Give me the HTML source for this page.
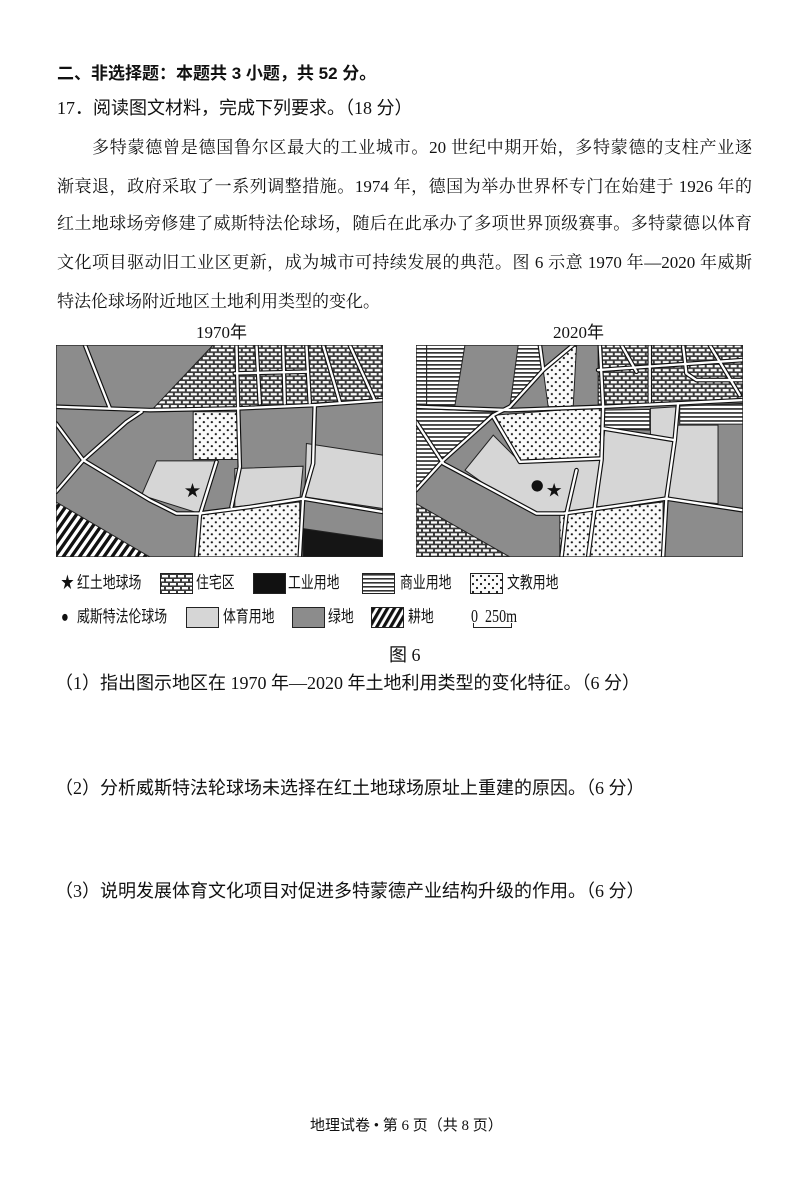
<!DOCTYPE html>
<html><head><meta charset="utf-8"><style>
body{margin:0;background:#fff;width:800px;height:1183px;position:relative;overflow:hidden;font-family:"Liberation Serif","Noto Serif CJK SC",serif;color:#111}
.a{position:absolute;white-space:nowrap}
.t{font-family:"Liberation Sans","Noto Sans CJK SC",sans-serif;font-weight:bold;font-size:17px}
.p{position:absolute;left:57px;width:695px;font-size:17px;text-align:justify;text-align-last:justify;white-space:nowrap;height:24px;line-height:24px;font-family:"Liberation Serif","Noto Serif CJK SC",serif}
.q{font-family:"Liberation Serif","Noto Sans CJK SC",sans-serif;font-size:18px}
.lg{font-family:"Liberation Serif","Noto Sans CJK SC",sans-serif;font-size:16.5px;line-height:20px;transform:scaleX(0.78);transform-origin:0 0}
.box{position:absolute;width:33px;height:21px;border:1px solid #222;box-sizing:border-box}
</style></head><body>
<div class="a t" style="left:57px;top:59px">二、非选择题：本题共 3 小题，共 52 分。</div>
<div class="a q" style="left:57px;top:94px">17．阅读图文材料，完成下列要求。（18 分）</div>
<div class="p" style="top:136px;left:92px;width:660px">多特蒙德曾是德国鲁尔区最大的工业城市。20 世纪中期开始，多特蒙德的支柱产业逐</div>
<div class="p" style="top:175px">渐衰退，政府采取了一系列调整措施。1974 年，德国为举办世界杯专门在始建于 1926 年的</div>
<div class="p" style="top:212px">红土地球场旁修建了威斯特法伦球场，随后在此承办了多项世界顶级赛事。多特蒙德以体育</div>
<div class="p" style="top:251px">文化项目驱动旧工业区更新，成为城市可持续发展的典范。图 6 示意 1970 年—2020 年威斯</div>
<div class="a" style="top:290px;left:57px;font-size:17px;line-height:24px;font-family:'Liberation Serif','Noto Serif CJK SC',serif">特法伦球场附近地区土地利用类型的变化。</div>
<div class="a q" style="left:196px;top:318px;font-size:17px">1970年</div>
<div class="a q" style="left:553px;top:318px;font-size:17px">2020年</div>

<svg width="0" height="0" style="position:absolute">
<defs>
<pattern id="brick" width="8" height="8" patternUnits="userSpaceOnUse"><rect width="8" height="8" fill="#3a3a3a"/><rect x="1" y="1" width="6" height="2.4" fill="#fff"/><rect x="-3" y="5" width="6" height="2.4" fill="#fff"/><rect x="5" y="5" width="6" height="2.4" fill="#fff"/></pattern>
<pattern id="dots" width="8" height="8" patternUnits="userSpaceOnUse"><rect width="8" height="8" fill="#fafafa"/><circle cx="2" cy="2" r="1.1" fill="#111"/><circle cx="6" cy="6" r="1.1" fill="#111"/></pattern>
<pattern id="stripe" width="4" height="4" patternUnits="userSpaceOnUse"><rect width="4" height="4" fill="#fff"/><rect width="4" height="1.6" fill="#333"/></pattern>
<pattern id="hatch" width="6" height="6" patternUnits="userSpaceOnUse" patternTransform="rotate(30)"><rect width="6" height="6" fill="#fff"/><rect width="3.2" height="6" fill="#111"/></pattern>
<pattern id="brickZ" width="24" height="24" patternUnits="userSpaceOnUse"><rect width="24" height="24" fill="#3a3a3a"/><rect x="3" y="3" width="18" height="7" fill="#fff"/><rect x="-9" y="15" width="18" height="7" fill="#fff"/><rect x="15" y="15" width="18" height="7" fill="#fff"/></pattern>
<pattern id="dotsZ" width="24" height="24" patternUnits="userSpaceOnUse"><rect width="24" height="24" fill="#fafafa"/><circle cx="6" cy="6" r="3.3" fill="#111"/><circle cx="18" cy="18" r="3.3" fill="#111"/></pattern>
<pattern id="stripeZ" width="12" height="12" patternUnits="userSpaceOnUse"><rect width="12" height="12" fill="#fff"/><rect width="12" height="5" fill="#333"/></pattern>
<pattern id="hatchZ" width="20" height="20" patternUnits="userSpaceOnUse" patternTransform="rotate(35)"><rect width="20" height="20" fill="#fff"/><rect width="10" height="20" fill="#111"/></pattern>
</defs></svg>

<!-- Map 1970 -->
<svg style="position:absolute;left:56px;top:345px" width="327" height="212" viewBox="18 15 982 635" preserveAspectRatio="none">
<rect x="18" y="15" width="982" height="635" fill="#8c8c8c"/>
<g stroke="#222" stroke-width="3">
<polygon points="310,205 490,15 1000,15 1000,175 560,205" fill="url(#brickZ)"/>
<polygon points="430,215 565,215 565,358 430,358" fill="url(#dotsZ)"/>
<polygon points="320,362 495,362 450,520 275,465" fill="#d6d6d6"/>
<polygon points="555,385 760,378 750,480 555,500" fill="#d6d6d6"/>
<polygon points="770,310 1000,345 1000,505 765,470" fill="#d6d6d6"/>
<polygon points="445,525 750,485 750,650 445,650" fill="url(#dotsZ)"/>
<polygon points="760,565 1000,600 1000,650 760,650" fill="#151515"/>
<polygon points="18,485 18,650 300,650" fill="url(#hatchZ)"/>
</g>
<g fill="none" stroke-linecap="round" stroke-linejoin="round">
<g stroke="#111" stroke-width="14">
<path d="M105,15 L180,205"/><path d="M18,200 L300,210 L560,205 L800,195 L1000,180"/>
<path d="M275,215 L230,245 L100,360 L18,455"/>
<path d="M18,250 L100,360 L200,420 L300,480 L380,520 L445,520 L600,500 L760,475 L1000,515"/>
<path d="M560,15 L565,205 L570,380 L545,500"/><path d="M500,365 L450,525 L440,650"/>
<path d="M795,195 L790,370 L760,475 L750,650"/>
<path d="M620,15 L630,190 M700,15 L705,190 M770,15 L780,188 M820,15 L870,185 M900,15 L975,180 M555,100 L770,95"/>
</g>
<g stroke="#fff" stroke-width="7">
<path d="M105,15 L180,205"/><path d="M18,200 L300,210 L560,205 L800,195 L1000,180"/>
<path d="M275,215 L230,245 L100,360 L18,455"/>
<path d="M18,250 L100,360 L200,420 L300,480 L380,520 L445,520 L600,500 L760,475 L1000,515"/>
<path d="M560,15 L565,205 L570,380 L545,500"/><path d="M500,365 L450,525 L440,650"/>
<path d="M795,195 L790,370 L760,475 L750,650"/>
<path d="M620,15 L630,190 M700,15 L705,190 M770,15 L780,188 M820,15 L870,185 M900,15 L975,180 M555,100 L770,95"/>
</g></g>
<text x="428" y="468" font-size="48" text-anchor="middle" fill="#111">★</text>
<rect x="18" y="15" width="982" height="635" fill="none" stroke="#222" stroke-width="4"/>
</svg>

<!-- Map 2020 -->
<svg style="position:absolute;left:416px;top:345px" width="327" height="212" viewBox="18 15 982 635" preserveAspectRatio="none">
<rect x="18" y="15" width="982" height="635" fill="#8c8c8c"/>
<g stroke="#222" stroke-width="3">
<polygon points="18,15 50,15 50,192 18,192" fill="url(#stripeZ)"/>
<polygon points="50,15 165,15 135,195 50,195" fill="url(#stripeZ)"/>
<polygon points="325,15 390,15 400,90 300,200" fill="url(#stripeZ)"/>
<polygon points="18,205 250,215 100,365 18,445" fill="url(#stripeZ)"/>
<polygon points="580,210 720,208 720,270 580,265" fill="url(#stripeZ)"/>
<polygon points="810,198 1000,190 1000,252 810,252" fill="url(#stripeZ)"/>
<polygon points="565,15 1000,15 1000,180 565,195" fill="url(#brickZ)"/>
<polygon points="18,490 18,650 300,650" fill="url(#brickZ)"/>
<polygon points="400,90 490,18 500,18 490,200 415,200" fill="url(#dotsZ)"/>
<polygon points="255,225 580,200 580,350 330,365" fill="url(#dotsZ)"/>
<polygon points="450,525 760,485 760,650 450,650" fill="url(#dotsZ)"/>
<polygon points="165,390 250,285 330,365 575,355 560,500 470,520 380,520 250,450" fill="#d6d6d6"/>
<polygon points="585,268 795,300 770,475 560,500" fill="#d6d6d6"/>
<polygon points="722,205 800,200 795,300 722,290" fill="#d6d6d6"/>
<polygon points="800,255 925,255 925,490 770,475" fill="#d6d6d6"/>
</g>
<g fill="none" stroke-linecap="round" stroke-linejoin="round">
<g stroke="#111" stroke-width="14">
<path d="M18,200 L300,210 L580,200 L800,190 L1000,180"/>
<path d="M18,450 L100,360 L250,225 L300,200 L400,90 L490,15"/>
<path d="M18,245 L100,370 L250,450 L380,520 L460,520 L600,500 L770,475 L1000,510"/>
<path d="M570,15 L580,200 L575,360 L555,500 L535,650"/><path d="M500,390 L470,520 L455,650"/>
<path d="M805,190 L795,300 L770,475 L760,650"/><path d="M390,15 L400,90"/>
<path d="M250,230 L330,365 L575,355"/><path d="M580,265 L795,300"/>
<path d="M565,90 L1000,60 M635,15 L680,95 M720,15 L720,185 M820,15 L830,100 L860,120 L1000,120 M900,15 L990,165"/>
</g>
<g stroke="#fff" stroke-width="7">
<path d="M18,200 L300,210 L580,200 L800,190 L1000,180"/>
<path d="M18,450 L100,360 L250,225 L300,200 L400,90 L490,15"/>
<path d="M18,245 L100,370 L250,450 L380,520 L460,520 L600,500 L770,475 L1000,510"/>
<path d="M570,15 L580,200 L575,360 L555,500 L535,650"/><path d="M500,390 L470,520 L455,650"/>
<path d="M805,190 L795,300 L770,475 L760,650"/><path d="M390,15 L400,90"/>
<path d="M250,230 L330,365 L575,355"/><path d="M580,265 L795,300"/>
<path d="M565,90 L1000,60 M635,15 L680,95 M720,15 L720,185 M820,15 L830,100 L860,120 L1000,120 M900,15 L990,165"/>
</g></g>
<circle cx="382" cy="437" r="17" fill="#111"/>
<text x="433" y="466" font-size="46" text-anchor="middle" fill="#111">★</text>
<rect x="18" y="15" width="982" height="635" fill="none" stroke="#222" stroke-width="4"/>
</svg>

<!-- Legend -->
<div class="a lg" style="left:61px;top:573px">★</div>
<div class="a lg" style="left:77px;top:573px">红土地球场</div>
<div class="box" style="left:160px;top:573px"><svg width="31" height="19" style="display:block"><rect width="31" height="19" fill="url(#brick)"/></svg></div>
<div class="a lg" style="left:196px;top:573px">住宅区</div>
<div class="box" style="left:253px;top:573px;background:#111"></div>
<div class="a lg" style="left:288px;top:573px">工业用地</div>
<div class="box" style="left:362px;top:573px"><svg width="31" height="19" style="display:block"><rect width="31" height="19" fill="url(#stripe)"/></svg></div>
<div class="a lg" style="left:400px;top:573px">商业用地</div>
<div class="box" style="left:470px;top:573px"><svg width="31" height="19" style="display:block"><rect width="31" height="19" fill="url(#dots)"/></svg></div>
<div class="a lg" style="left:507px;top:573px">文教用地</div>

<div class="a lg" style="left:61px;top:607px">●</div>
<div class="a lg" style="left:77px;top:607px">威斯特法伦球场</div>
<div class="box" style="left:186px;top:607px;background:#d6d6d6"></div>
<div class="a lg" style="left:223px;top:607px">体育用地</div>
<div class="box" style="left:292px;top:607px;background:#8c8c8c"></div>
<div class="a lg" style="left:328px;top:607px">绿地</div>
<div class="box" style="left:371px;top:607px"><svg width="31" height="19" style="display:block"><rect width="31" height="19" fill="url(#hatch)"/></svg></div>
<div class="a lg" style="left:408px;top:607px">耕地</div>
<div class="a lg" style="left:471px;top:606px;font-size:18px">0&nbsp;&nbsp;250m</div>
<div style="position:absolute;left:473px;top:623px;width:37px;height:4px;border:1px solid #222;border-top:none"></div>
<div class="a lg" style="left:389px;top:645px;font-size:18px;transform:none">图 6</div>

<div class="a q" style="left:55px;top:669px">（1）指出图示地区在 1970 年—2020 年土地利用类型的变化特征。（6 分）</div>
<div class="a q" style="left:55px;top:774px">（2）分析威斯特法轮球场未选择在红土地球场原址上重建的原因。（6 分）</div>
<div class="a q" style="left:55px;top:877px">（3）说明发展体育文化项目对促进多特蒙德产业结构升级的作用。（6 分）</div>
<div class="a q" style="left:310px;top:1114px;font-size:15px">地理试卷 • 第 6 页（共 8 页）</div>
</body></html>
